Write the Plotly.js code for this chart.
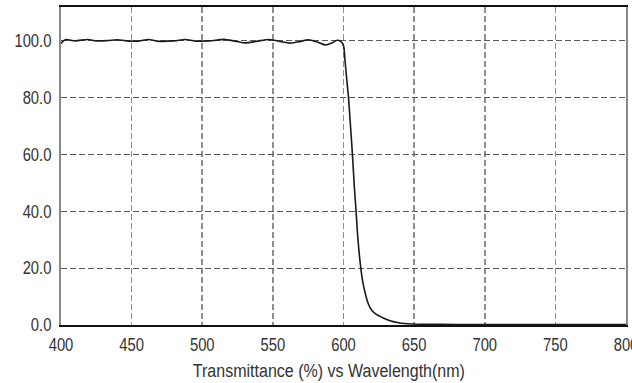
<!DOCTYPE html>
<html>
<head>
<meta charset="utf-8">
<script src="https://cdn.plot.ly/plotly-3.0.1.min.js"></script>
<style>
html,body{margin:0;padding:0;background:#fff;}
#chart{width:632px;height:383px;}
</style>
</head>
<body>
<div id="chart"></div>
<script>
// Wavelength (nm)
const wavelength = [400, 403, 410, 419, 425, 433, 440, 446, 455, 462, 468, 480, 488, 495, 505, 516, 522, 530, 538, 547, 551, 556, 562, 569, 575, 581, 587, 592, 595.5, 598, 600, 601.1, 602.3, 603.5, 604.7, 606.3, 607.7, 608.9, 610.1, 612.2, 614.1, 617.6, 620, 623, 628.5, 633, 639, 648.6, 660, 680, 700, 730, 760, 800];
// Transmittance (%)
const transmittance = [99.0, 100.3, 99.9, 100.4, 99.9, 100.0, 100.3, 99.9, 99.8, 100.4, 99.8, 99.9, 100.4, 99.8, 99.9, 100.4, 99.9, 99.2, 99.7, 100.4, 100.1, 99.6, 99.1, 99.6, 100.3, 99.6, 98.5, 99.2, 100.1, 99.7, 98.2, 92.8, 86.4, 80.2, 71.8, 60.1, 48.4, 40.0, 30.9, 20.2, 14.0, 7.4, 5.2, 3.8, 2.4, 1.5, 0.8, 0.35, 0.25, 0.2, 0.2, 0.2, 0.2, 0.2];
const xTicks = [400, 450, 500, 550, 600, 650, 700, 750, 800];
const yTicks = [0, 20, 40, 60, 80, 100];
const yTickText = ["0.0", "20.0", "40.0", "60.0", "80.0", "100.0"];
const xTitle = "Transmittance (%) vs Wavelength(nm)";

const font = "'Liberation Sans', Arial, sans-serif";

const trace = {
  x: wavelength,
  y: transmittance,
  type: 'scatter',
  mode: 'lines',
  line: {color: '#1a1a1a', width: 1.6, shape: 'spline', smoothing: 0.8},
  hoverinfo: 'skip'
};

const layout = {
  width: 632,
  height: 383,
  margin: {l: 61, r: 6, t: 7, b: 58},
  paper_bgcolor: '#fff',
  plot_bgcolor: '#fff',
  showlegend: false,
  font: {family: font, size: 18, color: '#333'},
  xaxis: {
    range: [400, 800],
    tickvals: xTicks,
    ticktext: xTicks.map(String),
    ticklabeloverflow: 'allow',
    showgrid: true,
    gridcolor: '#8f8f8f',
    gridwidth: 1.6,
    griddash: '6px,3px',
    showline: true,
    linecolor: '#111',
    linewidth: 2,
    mirror: true,
    ticks: 'outside',
    ticklen: 2,
    tickcolor: 'rgba(0,0,0,0)',
    zeroline: false,
    tickfont: {family: font, size: 18, color: '#333'}
  },
  yaxis: {
    range: [0, 111.8],
    tickvals: yTicks,
    ticktext: yTickText,
    showgrid: true,
    gridcolor: '#5a5a5a',
    gridwidth: 1.2,
    griddash: '6px,3px',
    showline: true,
    linecolor: '#8a8a8a',
    linewidth: 2,
    mirror: true,
    ticks: 'outside',
    ticklen: 4,
    tickcolor: 'rgba(0,0,0,0)',
    zeroline: false,
    tickfont: {family: font, size: 18, color: '#333'}
  },
  annotations: [{
    text: xTitle,
    xref: 'paper', yref: 'paper',
    x: 0.475, y: 0,
    xanchor: 'center', yanchor: 'top',
    yshift: -34,
    showarrow: false,
    font: {family: font, size: 18, color: '#333'}
  }]
};

// condense the text horizontally, like the narrow face of the original
function condense(sel, factor) {
  document.querySelectorAll(sel).forEach(function (t) {
    const len = t.getComputedTextLength();
    if (len > 0) {
      t.setAttribute('textLength', (len * factor).toFixed(2));
      t.setAttribute('lengthAdjust', 'spacingAndGlyphs');
    }
  });
}

Plotly.newPlot('chart', [trace], layout, {staticPlot: true, displayModeBar: false}).then(function () {
  condense('#chart .xtick text, #chart .ytick text', 0.82);
  condense('#chart .annotation-text', 0.89);
});
</script>
</body>
</html>
